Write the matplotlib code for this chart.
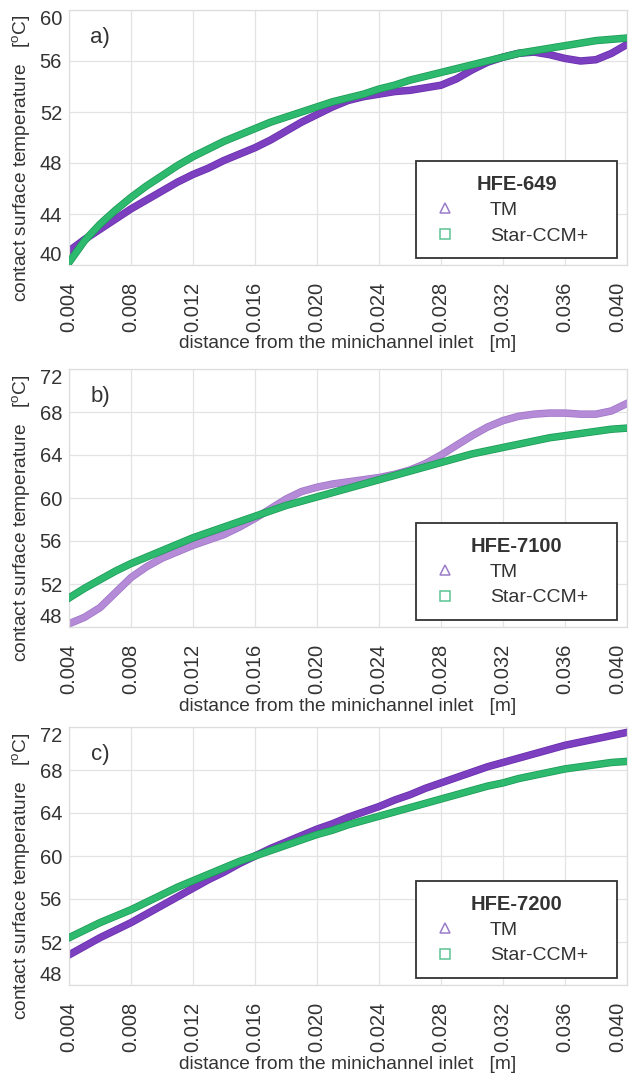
import matplotlib
matplotlib.use("Agg")
import matplotlib.pyplot as plt
import matplotlib.patheffects as pe
from matplotlib.lines import Line2D

plt.rcParams["font.family"] = ["Liberation Sans", "DejaVu Sans"]
plt.rcParams["mathtext.fontset"] = "custom"
plt.rcParams["mathtext.rm"] = "Liberation Sans"

# distance from the minichannel inlet [m], every 1 mm
x_mm = [4, 5, 6, 7, 8, 9, 10, 11, 12, 13, 14, 15, 16, 17, 18, 19, 20, 21, 22,
        23, 24, 25, 26, 27, 28, 29, 30, 31, 32, 33, 34, 35, 36, 37, 38, 39, 40]
x_m = [v / 1000 for v in x_mm]

# a) HFE-649
tm_649 = [41.1, 42.0, 42.8, 43.6, 44.4, 45.1, 45.8, 46.5, 47.1, 47.6, 48.2, 48.7,
          49.2, 49.8, 50.5, 51.2, 51.8, 52.4, 52.9, 53.2, 53.4, 53.6, 53.7, 53.9,
          54.1, 54.6, 55.3, 55.9, 56.3, 56.6, 56.7, 56.5, 56.2, 56.0, 56.1, 56.6, 57.3]
ccm_649 = [40.2, 41.9, 43.2, 44.3, 45.3, 46.2, 47.0, 47.8, 48.5, 49.1, 49.7, 50.2,
           50.7, 51.2, 51.6, 52.0, 52.4, 52.8, 53.1, 53.4, 53.8, 54.1, 54.5, 54.8,
           55.1, 55.4, 55.7, 56.0, 56.3, 56.6, 56.8, 57.0, 57.2, 57.4, 57.6, 57.7, 57.8]

# b) HFE-7100
tm_7100 = [48.3, 48.9, 49.8, 51.2, 52.6, 53.6, 54.4, 55.0, 55.6, 56.1, 56.6, 57.3,
           58.1, 59.0, 59.9, 60.6, 61.0, 61.3, 61.5, 61.7, 61.9, 62.2, 62.6, 63.2,
           64.0, 64.9, 65.8, 66.6, 67.2, 67.6, 67.8, 67.9, 67.9, 67.8, 67.8, 68.1, 68.8]
ccm_7100 = [50.7, 51.6, 52.4, 53.2, 53.9, 54.5, 55.1, 55.7, 56.3, 56.8, 57.3, 57.8,
            58.3, 58.8, 59.3, 59.7, 60.1, 60.5, 60.9, 61.3, 61.7, 62.1, 62.5, 62.9,
            63.3, 63.7, 64.1, 64.4, 64.7, 65.0, 65.3, 65.6, 65.8, 66.0, 66.2, 66.4, 66.5]

# c) HFE-7200
tm_7200 = [50.8, 51.6, 52.4, 53.1, 53.8, 54.6, 55.4, 56.2, 57.0, 57.8, 58.5, 59.3,
           60.0, 60.7, 61.3, 61.9, 62.5, 63.0, 63.6, 64.1, 64.6, 65.2, 65.7, 66.3,
           66.8, 67.3, 67.8, 68.3, 68.7, 69.1, 69.5, 69.9, 70.3, 70.6, 70.9, 71.2, 71.5]
ccm_7200 = [52.4, 53.1, 53.8, 54.4, 55.0, 55.7, 56.4, 57.1, 57.7, 58.3, 58.9, 59.5,
            60.0, 60.5, 61.0, 61.5, 62.0, 62.4, 62.9, 63.3, 63.7, 64.1, 64.5, 64.9,
            65.3, 65.7, 66.1, 66.5, 66.8, 67.2, 67.5, 67.8, 68.1, 68.3, 68.5, 68.7, 68.8]

x_ticks = [0.004, 0.008, 0.012, 0.016, 0.020, 0.024, 0.028, 0.032, 0.036, 0.040]
x_tick_labels = ["0.004", "0.008", "0.012", "0.016", "0.020",
                 "0.024", "0.028", "0.032", "0.036", "0.040"]
y_ticks_a = [40, 44, 48, 52, 56, 60]
y_ticks_bc = [48, 52, 56, 60, 64, 68, 72]

panels = [
    ("a)", "HFE-649", tm_649, ccm_649, (40, 60), y_ticks_a, "#7b3fbf", "#6a2fae"),
    ("b)", "HFE-7100", tm_7100, ccm_7100, (48, 72), y_ticks_bc, "#b58bd8", "#a077c8"),
    ("c)", "HFE-7200", tm_7200, ccm_7200, (48, 72), y_ticks_bc, "#7b3fbf", "#6a2fae"),
]

# axes boxes in pixels (left, top, right, bottom)
W, H = 629, 1074
boxes = [(69, 10, 627, 265), (69, 369, 627, 627), (69, 727, 627, 985)]

green = "#2dba6f"
green_edge = "#1c9a56"
text_col = "#333333"

fig = plt.figure(figsize=(W / 100, H / 100), dpi=100)

for (tag, fluid, tm, ccm, ylim, yt, pcol, pedge), (l, t, r, b) in zip(panels, boxes):
    ax = fig.add_axes([l / W, 1 - b / H, (r - l) / W, (b - t) / H])

    ax.plot(x_m, ccm, color=green, lw=4.3, zorder=3,
            path_effects=[pe.Stroke(linewidth=5.4, foreground=green_edge), pe.Normal()])
    ax.plot(x_m, tm, color=pcol, lw=4.3, zorder=2,
            path_effects=[pe.Stroke(linewidth=5.4, foreground=pedge), pe.Normal()])

    ax.set_xlim(0.004, 0.040)
    ax.set_ylim(*ylim)
    ax.set_xticks(x_ticks)
    ax.set_xticklabels(x_tick_labels, rotation=90)
    ax.get_xticklabels()[-1].set_ha("right")
    ax.set_yticks(yt)
    ax.grid(True, color="#e3e3e3", lw=0.9)
    ax.set_axisbelow(True)
    for s in ax.spines.values():
        s.set_color("#dddddd")
        s.set_linewidth(0.9)
    ax.tick_params(axis="both", length=0, labelsize=14.5, colors=text_col)
    ax.tick_params(axis="x", pad=12)
    ax.tick_params(axis="y", pad=5)
    ylbls = ax.get_yticklabels()
    ylbls[0].set_va("bottom")
    ylbls[-1].set_va("top")

    ax.set_xlabel("distance from the minichannel inlet   [m]", fontsize=13.8, color=text_col)
    ax.xaxis.set_label_coords(0.5, -0.275)
    ax.set_ylabel("contact surface temperature   [$^{\\mathrm{o}}$C]", fontsize=13.8,
                  color=text_col)
    ax.yaxis.set_label_coords(-0.064, 0.42)

    ax.text(0.056, 0.894, tag, transform=ax.transAxes, fontsize=16,
            color=text_col, ha="center", va="center")

    handles = [
        Line2D([], [], ls="none", marker="^", ms=7, mfc="none", mec="#9b7cc9", mew=1.1),
        Line2D([], [], ls="none", marker="s", ms=6.5, mfc="none", mec="#5cc493", mew=1.1),
    ]
    leg = ax.legend(handles, ["TM", "Star-CCM+"], title=fluid, loc="lower left",
                    bbox_to_anchor=(0.622, 0.027, 0.360, 0.40), mode="expand",
                    borderaxespad=0, fontsize=14,
                    title_fontproperties={"weight": "bold", "size": 14.5},
                    frameon=True, fancybox=False, framealpha=1, edgecolor="#333333",
                    borderpad=0.7, handletextpad=1.5, labelspacing=0.4,
                    handlelength=1.6)
    leg.get_frame().set_linewidth(1.3)
    for txt in leg.get_texts():
        txt.set_color(text_col)
    leg.get_title().set_color(text_col)

fig.savefig("out.png", dpi=100, facecolor="white")
